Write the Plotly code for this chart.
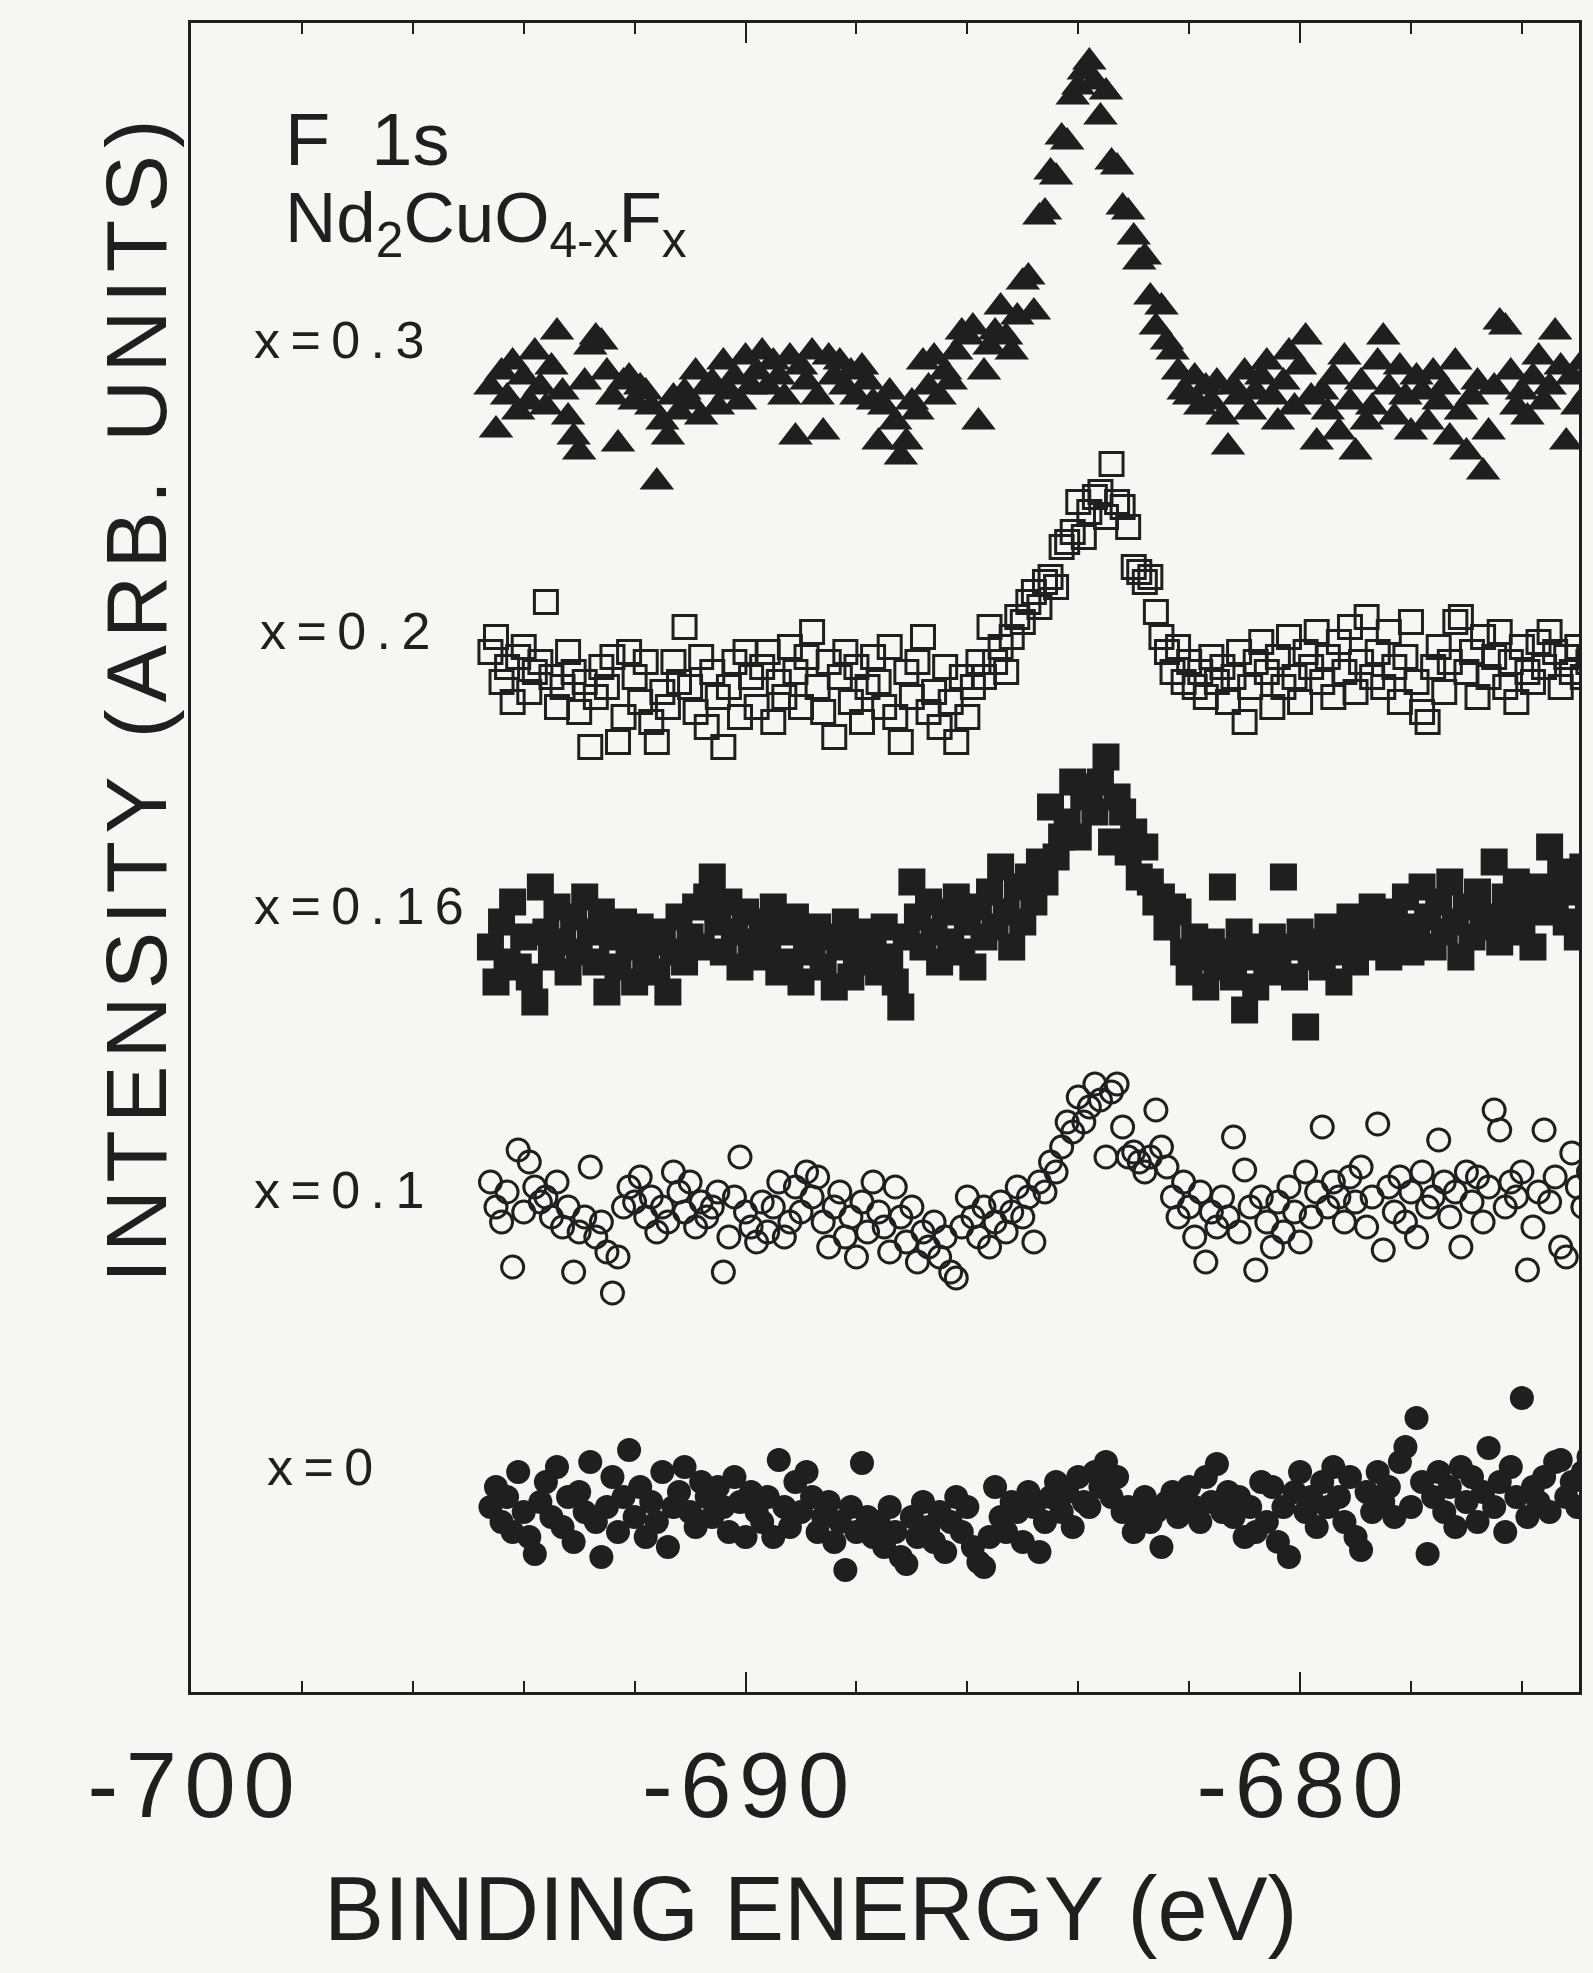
import numpy as np
import plotly.graph_objects as go

# Binding-energy grid (eV): first point and step of the measurement
E_START = -694.6
E_STEP = 0.1

# Stacked F 1s spectra (arbitrary units, as displayed with vertical offsets)
y_x03 = [
    13.05, 12.62, 13.20, 12.95, 13.30, 12.80, 13.15, 12.90, 13.40, 13.05,
    12.85, 13.25, 13.60, 13.00, 12.75, 12.55, 12.40, 13.10, 13.45, 13.55,
    13.50, 13.20, 12.95, 12.48, 13.10, 13.15, 12.90, 13.05, 13.00, 12.85,
    12.10, 12.70, 12.55, 12.95, 12.80, 13.00, 12.90, 13.20, 12.75, 13.05,
    13.10, 12.85, 13.30, 13.00, 13.15, 12.90, 13.35, 13.05, 13.20, 13.40,
    13.05, 13.30, 13.15, 12.95, 13.35, 12.55, 13.25, 13.10, 13.40, 12.95,
    12.60, 13.35, 13.15, 13.30, 13.05, 13.20, 12.95, 13.25, 13.10, 12.90,
    12.50, 12.85, 13.00, 12.70, 12.35, 12.50, 12.90, 12.80, 13.30, 13.05,
    13.35, 12.95, 13.20, 13.10, 13.40, 13.60, 13.55, 13.65, 12.70, 13.20,
    13.45, 13.60, 13.85, 13.55,
    13.40, 13.75, 14.10, 14.15, 13.80, 14.75, 14.80, 15.20, 15.15, 15.55,
    15.50, 15.95, 16.05, 16.20, 16.30, 16.10, 15.75, 16.00, 15.30, 15.25,
    14.85, 14.80, 14.55, 14.30, 14.35, 13.95, 13.65, 13.85, 13.50, 13.40,
    13.20, 13.00,
    12.95, 13.15, 12.85, 13.05,
    12.90, 13.10, 12.75, 12.45, 13.05, 12.95, 13.20, 12.80, 13.00, 13.15,
    13.30, 12.95, 12.70, 13.10, 13.40, 12.85, 13.25, 13.55, 12.95, 12.50,
    13.00, 12.80, 13.15, 12.60, 13.35, 12.90, 12.40, 13.10, 12.70, 12.85,
    13.30, 13.55, 13.05, 12.75, 13.25, 12.95, 12.60, 13.15, 13.00, 12.70,
    13.20, 12.90, 13.05, 12.55, 13.30, 12.80, 12.40, 12.95, 13.10, 12.20,
    12.60, 13.05, 13.70, 13.65, 13.20, 12.85, 13.00, 12.75, 13.15, 13.35,
    12.90, 13.05, 13.60, 13.25, 12.50, 13.15, 12.85, 13.30, 13.00,
]

y_x02 = [
    10.40, 10.55, 10.10, 10.25, 9.90, 10.35, 10.45, 10.00, 10.20, 10.30,
    10.90, 10.15, 9.85, 10.05, 10.40, 10.20, 9.80, 10.10, 9.45, 9.95,
    10.25, 10.05, 10.35, 9.50, 9.75, 10.40, 10.15, 9.90, 10.30, 9.70,
    9.50, 10.00, 9.85, 10.30, 10.10, 10.65, 10.05, 9.80, 10.35, 9.65,
    10.20, 9.95, 9.45, 10.05, 10.30, 9.75, 10.40, 10.15, 9.85, 10.25,
    10.40, 9.70, 10.10, 9.95, 10.45, 10.20, 9.85, 10.35, 10.60, 10.05,
    9.80, 10.30, 9.55, 10.15, 10.40, 9.90, 10.25, 9.70, 10.05, 10.35,
    10.10, 9.85, 10.45, 9.75, 9.50, 10.20, 9.95, 10.30, 10.55, 9.80,
    10.00, 9.65, 10.25, 9.90, 9.50, 10.15, 9.75, 10.05,
    10.30, 10.15, 10.65, 10.30, 10.45, 10.20, 10.55, 10.75, 10.70, 10.90,
    11.00, 10.85, 11.10, 11.15, 11.05, 11.45, 11.50, 11.60, 11.90, 11.55,
    11.80, 11.95, 12.00, 11.75, 12.28, 11.90, 11.85, 11.65, 11.25, 11.20,
    11.10, 11.15, 10.80, 10.55, 10.40, 10.20,
    10.45, 10.10, 10.30, 10.05, 10.20, 9.95,
    10.35, 10.10, 10.25, 9.90, 10.15, 10.40, 9.70, 10.05, 10.30, 10.50,
    10.20, 9.85, 10.35, 10.05, 10.55, 10.15, 9.90, 10.40, 10.25, 10.60,
    10.10, 10.35, 9.95, 10.50, 10.20, 10.65, 10.00, 10.30, 10.75, 10.15,
    10.40, 10.05, 10.60, 10.25, 9.90, 10.35, 10.70, 10.10, 9.80, 9.70,
    10.25, 10.45, 10.00, 10.30, 10.70, 10.75, 10.20, 10.40, 9.95, 10.55,
    10.15, 10.35, 10.60, 10.05, 10.30, 9.90, 10.45, 10.20, 10.10, 10.50,
    10.25, 10.60, 10.40, 10.05, 10.35, 10.20, 10.45, 10.15, 10.30,
]

y_x016 = [
    7.45, 7.10, 7.70, 7.30, 7.90, 7.25, 7.55, 7.15, 6.90, 8.05,
    7.60, 7.35, 7.85, 7.50, 7.20, 7.75, 7.40, 7.95, 7.60, 7.30,
    7.80, 7.00, 7.55, 7.25, 7.70, 7.45, 7.10, 7.65, 7.35, 7.50,
    7.20, 7.60, 7.00, 7.40, 7.75, 7.30, 7.55, 7.85, 7.45, 7.95,
    8.15, 7.70, 7.40, 7.90, 7.60, 7.25, 7.80, 7.50, 7.35, 7.70,
    7.45, 7.85, 7.20, 7.60, 7.30, 7.75, 7.10, 7.50, 7.40, 7.65,
    7.25, 7.55, 7.05, 7.45, 7.70, 7.15, 7.40, 7.60, 7.30, 7.50,
    7.20, 7.65, 7.35, 7.10, 6.85, 7.55, 8.10, 7.75, 7.45, 7.90,
    7.60, 7.30, 7.80, 7.50, 7.95, 7.40, 7.70, 7.25, 7.85, 7.55,
    8.00, 7.65, 8.25, 7.80, 7.45, 8.05, 7.70, 8.15, 7.90, 8.30,
    8.10, 8.85, 8.35, 8.55, 8.70, 9.10, 8.55, 8.95, 9.05, 8.80,
    9.10, 9.35, 8.50, 8.95, 8.80, 8.40, 8.60, 8.15, 8.45, 8.10,
    7.90, 7.95, 7.65, 7.85, 7.80, 7.40, 7.20, 7.55, 7.35, 7.05,
    7.50, 7.25, 8.05, 7.40, 7.15, 7.60, 6.82, 7.35, 7.05, 7.45,
    7.30, 7.55, 7.20, 8.15, 7.45, 7.15, 7.60, 6.65, 7.35, 7.50,
    7.25, 7.65, 7.40, 7.10, 7.55, 7.75, 7.30, 7.60, 7.45, 7.85,
    7.50, 7.70, 7.35, 7.80, 7.55, 7.95, 7.40, 7.65, 8.05, 7.75,
    7.45, 7.90, 7.60, 8.10, 7.70, 7.35, 7.85, 7.55, 8.00, 7.65,
    7.75, 8.30, 7.50, 7.95, 7.70, 8.10, 7.60, 7.85, 7.45, 8.05,
    7.80, 8.45, 7.95, 8.20, 7.70, 8.00, 7.55, 8.25, 7.90,
]

y_x01 = [
    5.10, 4.85, 4.70, 5.00, 4.25, 5.42, 4.80, 5.30, 5.05, 4.90,
    4.95, 4.75, 5.10, 4.65, 4.85, 4.20, 4.60, 4.75, 5.25, 4.55,
    4.70, 4.40, 3.99, 4.35, 4.85, 5.05, 4.90, 5.15, 4.75, 4.95,
    4.60, 4.85, 4.70, 5.20, 5.00, 4.80, 5.10, 4.65, 4.90, 4.75,
    4.85, 5.00, 4.20, 4.55, 4.95, 5.35, 4.80, 4.65, 4.50, 4.90,
    4.60, 4.85, 5.10, 4.55, 4.70, 5.05, 4.80, 5.20, 4.95, 5.15,
    4.70, 4.45, 4.85, 5.00, 4.55, 4.75, 4.35, 4.90, 4.60, 5.10,
    4.80, 4.65, 4.40, 5.05, 4.75, 4.50, 4.85, 4.30, 4.60, 4.45,
    4.70, 4.35, 4.55, 4.20, 4.14, 4.65, 4.95, 4.75, 4.55, 4.85,
    4.45, 4.70, 4.90, 4.60, 4.80, 5.05, 4.75, 4.95, 4.50, 5.10,
    5.00, 5.30, 5.20, 5.45, 5.70, 5.60, 5.95, 5.70, 5.85, 6.08,
    5.92, 5.35, 6.00, 6.08, 5.65, 5.35, 5.40, 5.30, 5.20, 5.35,
    5.82, 5.45, 5.25, 4.95, 4.75, 5.10, 4.85, 4.55, 5.00, 4.30,
    4.80, 4.65, 4.95, 4.75, 5.55, 4.60, 5.22, 4.85, 4.22, 4.95,
    4.70, 4.45, 4.90, 4.60, 5.05, 4.80, 4.50, 5.20, 4.75, 5.00,
    5.65, 4.85, 5.10, 4.95, 4.70, 5.15, 4.90, 5.25, 4.65, 4.95,
    5.68, 4.42, 5.05, 4.80, 5.15, 4.70, 5.00, 4.55, 5.20, 4.85,
    4.95, 5.52, 5.10, 4.75, 5.00, 4.45, 5.20, 4.90, 5.15, 4.70,
    5.05, 5.82, 5.62, 4.85, 5.10, 4.95, 5.20, 4.22, 4.65, 5.00,
    5.62, 4.90, 5.15, 4.45, 4.35, 5.39, 5.05, 4.85, 5.20,
]

y_x0 = [
    1.85, 2.05, 1.70, 1.95, 1.60, 2.20, 1.80, 1.55, 1.38, 1.90,
    2.10, 1.75, 2.25, 1.65, 1.95, 1.50, 2.00, 1.80, 2.30, 1.70,
    1.35, 1.85, 2.15, 1.60, 1.95, 2.42, 1.75, 2.05, 1.55, 1.90,
    1.70, 2.20, 1.45, 1.85, 2.00, 2.25, 1.80, 1.65, 2.10, 1.95,
    1.75, 2.05, 1.85, 1.60, 2.15, 1.90, 1.55, 2.00, 1.80, 1.70,
    1.95, 1.55, 2.32, 1.85, 1.65, 2.10, 1.80, 2.20, 1.95, 1.60,
    1.75, 1.90, 1.50, 1.70, 1.22, 1.85, 1.60, 2.29, 1.75, 1.55,
    1.70, 1.45, 1.85, 1.60, 1.35, 1.28, 1.75, 1.55, 1.90, 1.65,
    1.50, 1.80, 1.40, 1.70, 1.95, 1.60, 1.85, 1.45, 1.30, 1.25,
    1.55, 2.05, 1.75, 1.60, 1.90, 1.80, 1.50, 2.00, 1.85, 1.40,
    1.70, 1.95, 2.10, 1.80, 2.00, 1.65, 2.15, 1.90, 1.85, 2.20,
    2.05, 2.30, 1.95, 2.15, 1.80, 1.85, 1.60, 1.75, 1.95, 1.70,
    1.80, 1.45, 1.90, 2.00, 1.75, 1.95, 2.05, 1.85, 1.70, 2.15,
    1.90, 2.28, 1.80, 2.00, 1.75, 1.95, 1.55, 1.85, 1.60, 2.10,
    1.70, 2.05, 1.50, 1.85, 1.35, 2.00, 2.20, 1.80, 1.95, 1.65,
    2.10, 1.85, 2.25, 1.95, 1.70, 2.15, 1.55, 1.42, 2.00, 1.80,
    2.20, 1.90, 2.05, 1.75, 2.30, 2.45, 1.85, 2.74, 2.10, 1.38,
    1.95, 2.20, 1.80, 2.05, 1.65, 2.25, 1.90, 2.15, 1.70, 2.00,
    2.44, 1.85, 2.10, 1.60, 2.25, 1.95, 2.94, 1.75, 2.05, 1.90,
    2.15, 1.80, 2.30, 2.32, 1.95, 2.10, 1.85, 2.20, 2.35,
]

series_names = ["x=0.3", "x=0.2", "x=0.16", "x=0.1", "x=0"]
series_values = [y_x03, y_x02, y_x016, y_x01, y_x0]
x_ticks = [-700, -690, -680]
x_tick_labels = ["-700", "-690", "-680"]

INK = "#1f1f1f"
BG = "#f6f6f4"
FONT = "Liberation Sans, Arial, Helvetica, sans-serif"

styles = [
    dict(symbol="triangle-up", size=30, color=INK, line=dict(width=0)),
    dict(symbol="square-open", size=23, color=INK, line=dict(width=3, color=INK)),
    dict(symbol="square", size=27, color=INK, line=dict(width=0)),
    dict(symbol="circle-open", size=22, color=INK, line=dict(width=3, color=INK)),
    dict(symbol="circle", size=24, color=INK, line=dict(width=0)),
]

fig = go.Figure()
for name, vals, st in zip(series_names, series_values, styles):
    e = E_START + E_STEP * np.arange(len(vals))
    fig.add_trace(go.Scatter(x=e, y=vals, mode="markers", name=name,
                             marker=st, showlegend=False))

def spaced(s, sep="\u200a"):
    return sep.join(s)

fig.update_layout(
    width=1593, height=1973,
    margin=dict(l=191, r=14, t=23, b=281),
    paper_bgcolor=BG, plot_bgcolor=BG,
    font=dict(family=FONT, color=INK),
    xaxis=dict(
        range=[-700, -674.97], showgrid=False, zeroline=False,
        showline=True, linewidth=3, linecolor=INK, mirror="allticks",
        tickmode="array", tickvals=x_ticks,
        ticktext=[spaced(t) for t in x_tick_labels],
        ticks="inside", ticklen=20, tickwidth=2, tickcolor=INK,
        tickfont=dict(size=92, family=FONT, color=INK),
        ticklabelstandoff=12,
        minor=dict(dtick=2, tick0=-700, ticks="inside", ticklen=11,
                   tickwidth=2, tickcolor=INK),
    ),
    yaxis=dict(
        range=[0, 16.69], showgrid=False, zeroline=False,
        showline=True, linewidth=3, linecolor=INK, mirror=True,
        ticks="", showticklabels=False,
    ),
)

ann = []
# axis titles
ann.append(dict(text=spaced("INTENSITY (ARB. UNITS)"), xref="paper", yref="paper",
                x=-0.040, y=0.594, xanchor="center", yanchor="middle",
                textangle=-90, showarrow=False,
                font=dict(size=86, family=FONT, color=INK)))
ann.append(dict(text="BINDING ENERGY (eV)", xref="paper", yref="paper",
                x=0.447, y=-0.130, xanchor="center", yanchor="middle",
                showarrow=False,
                font=dict(size=90, family=FONT, color=INK)))
# inset title
ann.append(dict(text="F  1s", xref="paper", yref="paper", x=0.066, y=0.930,
                xanchor="left", yanchor="middle", showarrow=False,
                font=dict(size=74, family=FONT, color=INK)))
ann.append(dict(text="Nd<sub>2</sub>CuO<sub>4-x</sub>F<sub>x</sub>",
                xref="paper", yref="paper", x=0.066, y=0.880,
                xanchor="left", yanchor="middle", showarrow=False,
                font=dict(size=71, family=FONT, color=INK)))
# series labels
label_pos = [(0.044, 0.810), (0.048, 0.636), (0.044, 0.471), (0.044, 0.301), (0.053, 0.135)]
for name, (px, py) in zip(series_names, label_pos):
    ann.append(dict(text=spaced(name, "\u2009"), xref="paper", yref="paper", x=px, y=py,
                    xanchor="left", yanchor="middle", showarrow=False,
                    font=dict(size=52, family=FONT, color=INK)))
fig.update_layout(annotations=ann)

fig.write_html("out.html")
